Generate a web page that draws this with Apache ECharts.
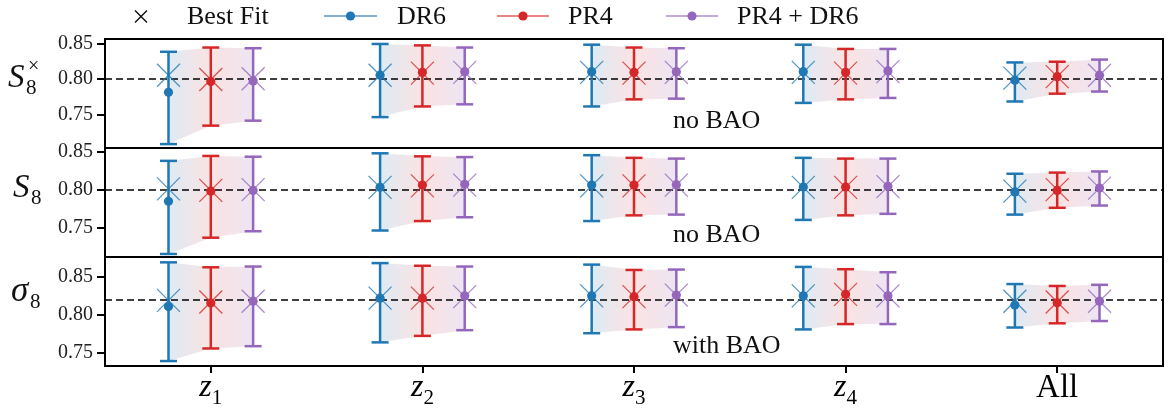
<!DOCTYPE html>
<html><head><meta charset="utf-8">
<script src="https://cdn.jsdelivr.net/npm/echarts@6/dist/echarts.min.js"></script>
<style>html,body{margin:0;padding:0;background:#fff}#c{width:1168px;height:409px}</style>
</head><body><div id="c"></div>
<script>
// ---------------- DATA ----------------
const categories = ['z1', 'z2', 'z3', 'z4', 'All'];
const xLabelMain = ['z', 'z', 'z', 'z', 'All'];
const xLabelSub = ['1', '2', '3', '4', ''];
const seriesNames = ['DR6', 'PR4', 'PR4 + DR6'];
const yTicks = [0.75, 0.80, 0.85];
const panelNotes = ['no BAO', 'no BAO', 'with BAO'];
const fiducial = [0.8045, 0.8005, 0.8197];

// Panel 1: S8x
const s8x_DR6_mean = [0.781, 0.805, 0.810, 0.810, 0.798];
const s8x_DR6_lo   = [0.708, 0.746, 0.761, 0.766, 0.768];
const s8x_DR6_hi   = [0.838, 0.849, 0.848, 0.848, 0.823];
const s8x_DR6_bf   = [0.805, 0.805, 0.809, 0.809, 0.801];
const s8x_PR4_mean = [0.796, 0.809, 0.809, 0.809, 0.803];
const s8x_PR4_lo   = [0.734, 0.761, 0.771, 0.771, 0.779];
const s8x_PR4_hi   = [0.844, 0.847, 0.844, 0.842, 0.824];
const s8x_PR4_bf   = [0.799, 0.808, 0.808, 0.808, 0.803];
const s8x_CMB_mean = [0.797, 0.810, 0.810, 0.811, 0.805];
const s8x_CMB_lo   = [0.741, 0.764, 0.772, 0.773, 0.782];
const s8x_CMB_hi   = [0.843, 0.844, 0.843, 0.842, 0.827];
const s8x_CMB_bf   = [0.800, 0.809, 0.809, 0.810, 0.805];

// Panel 2: S8
const s8_DR6_mean = [0.7845, 0.803, 0.806, 0.8035, 0.797];
const s8_DR6_lo   = [0.715, 0.746, 0.7585, 0.760, 0.767];
const s8_DR6_hi   = [0.838, 0.848, 0.8455, 0.842, 0.821];
const s8_DR6_bf   = [0.801, 0.803, 0.805, 0.803, 0.798];
const s8_PR4_mean = [0.798, 0.806, 0.806, 0.8035, 0.799];
const s8_PR4_lo   = [0.7365, 0.7585, 0.766, 0.766, 0.776];
const s8_PR4_hi   = [0.8445, 0.844, 0.842, 0.841, 0.8225];
const s8_PR4_bf   = [0.799, 0.805, 0.805, 0.803, 0.800];
const s8_CMB_mean = [0.799, 0.807, 0.8065, 0.8045, 0.802];
const s8_CMB_lo   = [0.745, 0.7635, 0.767, 0.768, 0.779];
const s8_CMB_hi   = [0.8435, 0.843, 0.841, 0.841, 0.824];
const s8_CMB_bf   = [0.800, 0.806, 0.806, 0.804, 0.802];

// Panel 3: sigma8
const sig8_DR6_mean = [0.811, 0.822, 0.825, 0.825, 0.813];
const sig8_DR6_lo   = [0.7395, 0.764, 0.776, 0.781, 0.7835];
const sig8_DR6_hi   = [0.869, 0.868, 0.866, 0.863, 0.8405];
const sig8_DR6_bf   = [0.819, 0.822, 0.825, 0.825, 0.818];
const sig8_PR4_mean = [0.8155, 0.822, 0.824, 0.827, 0.816];
const sig8_PR4_lo   = [0.756, 0.7725, 0.781, 0.788, 0.789];
const sig8_PR4_hi   = [0.8625, 0.8645, 0.859, 0.860, 0.838];
const sig8_PR4_bf   = [0.817, 0.822, 0.824, 0.827, 0.817];
const sig8_CMB_mean = [0.818, 0.825, 0.826, 0.825, 0.818];
const sig8_CMB_lo   = [0.759, 0.780, 0.784, 0.788, 0.792];
const sig8_CMB_hi   = [0.8635, 0.8635, 0.8595, 0.856, 0.8395];
const sig8_CMB_bf   = [0.818, 0.824, 0.826, 0.825, 0.818];

// ---------------- STYLE / LAYOUT ----------------
const colors = ['#1f77b4', '#d62728', '#9467bd'];
const bandColors = ['rgba(31,119,180,0.15)', 'rgba(214,39,40,0.13)', 'rgba(148,103,189,0.17)'];
const crossColors = ['rgba(31,119,180,0.8)', 'rgba(214,39,40,0.8)', 'rgba(148,103,189,0.8)'];
const offsets = [-0.2, 0, 0.2];
const yRanges = [[0.7025, 0.856], [0.711, 0.855], [0.733, 0.876]];
const gridTops = [39, 148, 257];
const gridH = 109;
const SERIF = '"Liberation Serif", "Times New Roman", "DejaVu Serif", serif';

const panels = [
  [[s8x_DR6_mean, s8x_DR6_lo, s8x_DR6_hi, s8x_DR6_bf], [s8x_PR4_mean, s8x_PR4_lo, s8x_PR4_hi, s8x_PR4_bf], [s8x_CMB_mean, s8x_CMB_lo, s8x_CMB_hi, s8x_CMB_bf]],
  [[s8_DR6_mean, s8_DR6_lo, s8_DR6_hi, s8_DR6_bf], [s8_PR4_mean, s8_PR4_lo, s8_PR4_hi, s8_PR4_bf], [s8_CMB_mean, s8_CMB_lo, s8_CMB_hi, s8_CMB_bf]],
  [[sig8_DR6_mean, sig8_DR6_lo, sig8_DR6_hi, sig8_DR6_bf], [sig8_PR4_mean, sig8_PR4_lo, sig8_PR4_hi, sig8_PR4_bf], [sig8_CMB_mean, sig8_CMB_lo, sig8_CMB_hi, sig8_CMB_bf]]
];

function errRender(k) {
  return function (params, api) {
    const i = api.value(0);
    const bw = api.size([1, 0])[0];
    const cM = api.coord([i, api.value(3)]);
    const x = cM[0] + offsets[k] * bw;
    const yLo = api.coord([i, api.value(1)])[1];
    const yHi = api.coord([i, api.value(2)])[1];
    const yB = api.coord([i, api.value(4)])[1];
    const cap = 8.5, cr = 11.5;
    const cs = { stroke: crossColors[k], lineWidth: 1.2 };
    const bs = { stroke: colors[k], lineWidth: 2.5 };
    return {
      type: 'group', children: [
        { type: 'line', shape: { x1: x - cr, y1: yB - cr, x2: x + cr, y2: yB + cr }, style: cs },
        { type: 'line', shape: { x1: x - cr, y1: yB + cr, x2: x + cr, y2: yB - cr }, style: cs },
        { type: 'line', shape: { x1: x, y1: yLo, x2: x, y2: yHi }, style: bs },
        { type: 'line', shape: { x1: x - cap, y1: yLo, x2: x + cap, y2: yLo }, style: bs },
        { type: 'line', shape: { x1: x - cap, y1: yHi, x2: x + cap, y2: yHi }, style: bs },
        { type: 'circle', shape: { cx: x, cy: cM[1], r: 4.6 }, style: { fill: colors[k] } }
      ]
    };
  };
}

function bandRender(a, b) {
  return function (params, api) {
    const i = api.value(0);
    const bw = api.size([1, 0])[0];
    const xc = api.coord([i, api.value(1)])[0];
    const xA = xc + offsets[a] * bw, xB = xc + offsets[b] * bw;
    const loA = api.coord([i, api.value(1)])[1], hiA = api.coord([i, api.value(2)])[1];
    const loB = api.coord([i, api.value(3)])[1], hiB = api.coord([i, api.value(4)])[1];
    return {
      type: 'polygon',
      shape: { points: [[xA, hiA], [xB, hiB], [xB, loB], [xA, loA]] },
      style: {
        fill: new echarts.graphic.LinearGradient(0, 0, 1, 0, [
          { offset: 0, color: bandColors[a] }, { offset: 1, color: bandColors[b] }
        ])
      }
    };
  };
}

const grids = [], xAxes = [], yAxes = [], series = [];
for (let p = 0; p < 3; p++) {
  const bottom = p === 2;
  grids.push({ left: 105, right: 5, top: gridTops[p], height: gridH, show: true, borderColor: '#000', borderWidth: 2, backgroundColor: 'transparent' });
  xAxes.push({
    type: 'category', gridIndex: p, data: categories, boundaryGap: true,
    axisLine: { show: false }, splitLine: { show: false },
    axisTick: { show: bottom, alignWithLabel: true, length: 7, lineStyle: { color: '#000', width: 2 } },
    axisLabel: {
      show: bottom, margin: 6, interval: 0,
      formatter: function (v, idx) {
        return xLabelSub[idx] ? '{it|' + xLabelMain[idx] + '}{sub|' + xLabelSub[idx] + '}' : '{up|' + xLabelMain[idx] + '}';
      },
      rich: {
        it: { fontFamily: SERIF, fontStyle: 'italic', fontSize: 32, color: '#000', verticalAlign: 'top', lineHeight: 32 },
        sub: { fontFamily: SERIF, fontSize: 21, color: '#000', verticalAlign: 'top', lineHeight: 21, padding: [16, 0, 0, 0] },
        up: { fontFamily: SERIF, fontSize: 33, color: '#000', verticalAlign: 'top', lineHeight: 32 }
      }
    }
  });
  yAxes.push({
    type: 'value', gridIndex: p, min: yRanges[p][0], max: yRanges[p][1],
    axisLine: { show: false }, splitLine: { show: false },
    axisTick: { show: true, customValues: yTicks, length: 8, lineStyle: { color: '#000', width: 2 } },
    axisLabel: { customValues: yTicks, formatter: v => v.toFixed(2), fontFamily: SERIF, fontSize: 20, color: '#222', margin: 12 }
  });
  const sets = panels[p];
  for (let k = 0; k < 2; k++) {
    const A = sets[k], B = sets[k + 1];
    series.push({
      type: 'custom', name: 'band' + p + k, xAxisIndex: p, yAxisIndex: p, z: 1, silent: true,
      renderItem: bandRender(k, k + 1),
      encode: { x: 0, y: [1, 2, 3, 4] },
      data: categories.map((c, i) => [i, A[1][i], A[2][i], B[1][i], B[2][i]]),
      markLine: k === 0 ? {
        silent: true, symbol: 'none', label: { show: false }, z: 2,
        lineStyle: { color: '#000', type: [7, 4], width: 1.6 },
        data: [{ yAxis: fiducial[p] }]
      } : undefined
    });
  }
  for (let k = 0; k < 3; k++) {
    const S = sets[k];
    series.push({
      type: 'custom', name: seriesNames[k], xAxisIndex: p, yAxisIndex: p, z: 3,
      renderItem: errRender(k),
      encode: { x: 0, y: [1, 2, 3, 4] },
      data: categories.map((c, i) => [i, S[1][i], S[2][i], S[0][i], S[3][i]])
    });
  }
}

// ---------------- LEGEND & LABELS ----------------
const graphic = [];
// legend: Best Fit cross
graphic.push({ type: 'line', shape: { x1: 135, y1: 10.5, x2: 147, y2: 22.5 }, style: { stroke: '#111', lineWidth: 1.4 } });
graphic.push({ type: 'line', shape: { x1: 135, y1: 22.5, x2: 147, y2: 10.5 }, style: { stroke: '#111', lineWidth: 1.4 } });
graphic.push({ type: 'text', x: 187, y: 17, style: { text: 'Best Fit', fontFamily: SERIF, fontSize: 26, fill: '#111', verticalAlign: 'middle' } });
const legX = [[324, 377, 397], [497, 549, 568], [666, 718, 737]];
for (let k = 0; k < 3; k++) {
  const L = legX[k];
  graphic.push({ type: 'line', shape: { x1: L[0], y1: 16, x2: L[1], y2: 16 }, style: { stroke: colors[k], lineWidth: 1.5, opacity: 0.75 } });
  graphic.push({ type: 'circle', shape: { cx: (L[0] + L[1]) / 2, cy: 16, r: 4.6 }, style: { fill: colors[k] } });
  graphic.push({ type: 'text', x: L[2], y: 17, style: { text: seriesNames[k], fontFamily: SERIF, fontSize: 26, fill: '#111', verticalAlign: 'middle' } });
}
// y-axis titles
function ytitle(x, y, main, sub, sup) {
  graphic.push({ type: 'text', x: x, y: y, style: { text: main, fontFamily: SERIF, fontStyle: 'italic', fontSize: 33, fill: '#111', verticalAlign: 'middle' } });
  graphic.push({ type: 'text', x: x + 18, y: y + 10, style: { text: sub, fontFamily: SERIF, fontSize: 21, fill: '#111', verticalAlign: 'middle' } });
  if (sup) graphic.push({ type: 'text', x: x + 20, y: y - 11, style: { text: sup, fontFamily: SERIF, fontSize: 20, fill: '#111', verticalAlign: 'middle' } });
}
ytitle(8, 78, 'S', '8', '×');
ytitle(13, 188, 'S', '8', null);
graphic.push({ type: 'text', x: 11, y: 292, style: { text: 'σ', fontFamily: SERIF, fontStyle: 'italic', fontSize: 35, fill: '#111', verticalAlign: 'middle' } });
graphic.push({ type: 'text', x: 30, y: 302, style: { text: '8', fontFamily: SERIF, fontSize: 21, fill: '#111', verticalAlign: 'middle' } });
// panel notes
const noteY = [121, 235, 346];
for (let p = 0; p < 3; p++) {
  graphic.push({ type: 'text', x: 673, y: noteY[p], style: { text: panelNotes[p], fontFamily: SERIF, fontSize: 26, fill: '#111', verticalAlign: 'middle' } });
}

const chart = echarts.init(document.getElementById('c'), null, { renderer: 'canvas' });
chart.setOption({
  animation: false,
  backgroundColor: '#fff',
  grid: grids, xAxis: xAxes, yAxis: yAxes, series: series, graphic: graphic
});
</script></body></html>
